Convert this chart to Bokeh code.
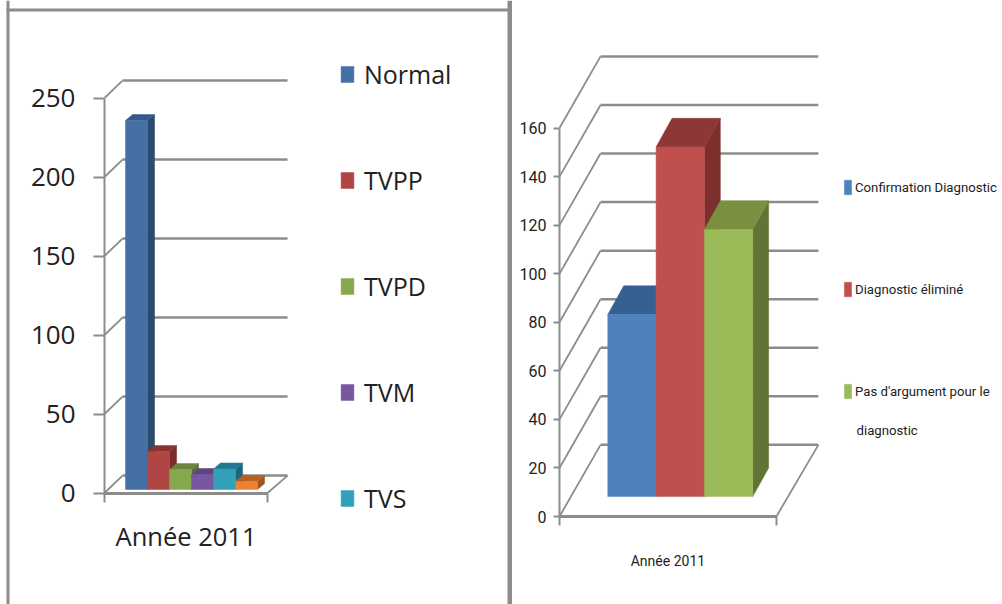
from bokeh.plotting import figure
from bokeh.layouts import row
from bokeh.models import (BoxAnnotation, FixedTicker, Label, Legend, LegendItem,
                          LinearAxis, Range1d)
from bokeh.embed import file_html
from bokeh.resources import INLINE

# ---- data -------------------------------------------------------------
left_series = ["Normal", "TVPP", "TVPD", "TVM", "TVS", "Autre"]
left_values = [233.5, 24, 12.6, 9.5, 13, 5]
left_legend = ["Normal", "TVPP", "TVPD", "TVM", "TVS"]
left_ticks = [0, 50, 100, 150, 200, 250]

right_series = ["Confirmation Diagnostic", "Diagnostic éliminé", "Pas d'argument pour le"]
right_values = [75, 144, 110]
right_ticks = [0, 20, 40, 60, 80, 100, 120, 140, 160]
category = "Année 2011"

left_front = ["#4470a4", "#b04545", "#86a94f", "#7857a0", "#31a0b8", "#ee8033"]
left_top = ["#335a8a", "#8c3330", "#6b8540", "#5f4580", "#25798e", "#b86020"]
left_side = ["#2b4a6e", "#7a2b2a", "#5c7338", "#4e3a6c", "#1f667a", "#a05418"]

right_front = ["#4f81bd", "#c0504d", "#9bbb59"]
right_top = ["#376092", "#8c3836", "#789040"]
right_side = ["#2f5380", "#7d2f2d", "#607535"]

AXIS = "#8c8c8c"
TEXT = "#222222"


def chart(width, height, x_range, y_range, ticks, values, front, top, side,
          floor_end, back_dx, back_dy, grid_end, bar_start, bar_dx, bar_dy, base,
          tick_font, tick_size, tick_out, tick_standoff, cat_size, cat_standoff, cat_out):
    p = figure(width=width, height=height, output_backend="svg", toolbar_location=None,
               x_range=Range1d(*x_range), y_range=Range1d(*y_range),
               x_axis_type=None, y_axis_type=None,
               min_border=0, outline_line_color=None)
    p.xgrid.visible = False
    p.ygrid.visible = False

    yaxis = LinearAxis(ticker=FixedTicker(ticks=ticks), bounds=(0, ticks[-1]), fixed_location=0)
    yaxis.axis_line_color = AXIS
    yaxis.axis_line_width = 2
    yaxis.major_tick_line_color = AXIS
    yaxis.major_tick_line_width = 2
    yaxis.major_tick_in = 0
    yaxis.major_tick_out = tick_out
    yaxis.minor_tick_line_color = None
    yaxis.major_label_text_font = tick_font
    yaxis.major_label_text_font_size = tick_size
    yaxis.major_label_text_color = TEXT
    yaxis.major_label_standoff = tick_standoff
    p.add_layout(yaxis, "left")

    centre = floor_end / 2
    xaxis = LinearAxis(ticker=FixedTicker(ticks=[centre], minor_ticks=[0, floor_end]),
                       bounds=(0, floor_end), fixed_location=0)
    xaxis.major_label_overrides = {centre: category}
    xaxis.axis_line_color = AXIS
    xaxis.axis_line_width = 3
    xaxis.major_tick_line_color = None
    xaxis.minor_tick_line_color = AXIS
    xaxis.minor_tick_line_width = 2
    xaxis.minor_tick_in = 0
    xaxis.minor_tick_out = cat_out
    xaxis.major_label_text_font = tick_font
    xaxis.major_label_text_font_size = cat_size
    xaxis.major_label_text_color = TEXT
    xaxis.major_label_standoff = cat_standoff
    p.add_layout(xaxis, "below")

    # back wall gridlines and their depth connectors
    p.multi_line([[back_dx, grid_end] for _ in ticks],
                 [[t + back_dy, t + back_dy] for t in ticks],
                 line_color=AXIS, line_width=2.5)
    p.multi_line([[0, back_dx] for _ in ticks], [[t, t + back_dy] for t in ticks],
                 line_color=AXIS, line_width=1.8)
    p.line([floor_end, grid_end], [0, back_dy], line_color=AXIS, line_width=1.8)

    fronts = []
    for i, v in enumerate(values):
        x0 = bar_start + i
        x1 = x0 + 1
        b = base
        t = base + v
        p.patch([x1, x1 + bar_dx, x1 + bar_dx, x1], [b, b + bar_dy, t + bar_dy, t],
                fill_color=side[i], line_color=side[i], line_width=0.5)
        p.patch([x0, x1, x1 + bar_dx, x0 + bar_dx], [t, t, t + bar_dy, t + bar_dy],
                fill_color=top[i], line_color=top[i], line_width=0.5)
        r = p.quad(left=x0, right=x1, bottom=b, top=t, fill_color=front[i], line_color=front[i],
                   line_width=0.5)
        fronts.append(r)
    return p, fronts


def borders(p, boxes):
    for l, r, t, b in boxes:
        p.add_layout(BoxAnnotation(left=l, right=r, top=t, bottom=b,
                                   left_units="canvas", right_units="canvas",
                                   top_units="canvas", bottom_units="canvas",
                                   fill_color=AXIS, fill_alpha=1, line_color=None, level="overlay"))


FONT_L = "Open Sans"
FONT_R = "Roboto"
W1, W2, H = 512, 490, 604

# left panel: 22 px per bar slot, 1.58 px per unit
SX1, SY1 = 22, 1.58
p1, f1 = chart(W1, H, (-104 / SX1, (W1 - 104) / SX1), (-(H - 492.5) / SY1, 492.5 / SY1),
               left_ticks, left_values, left_front, left_top, left_side,
               floor_end=7.41, back_dx=0.82, back_dy=11.0, grid_end=8.32,
               bar_start=0.955, bar_dx=0.32, bar_dy=3.8, base=2.2,
               tick_font=FONT_L, tick_size="26px", tick_out=11, tick_standoff=18,
               cat_size="25.5px", cat_standoff=17, cat_out=9)
leg1 = Legend(items=[LegendItem(label=n, renderers=[f1[i]]) for i, n in enumerate(left_legend)],
              location=(339, 89), orientation="vertical", padding=0, margin=0, spacing=72,
              glyph_width=16, glyph_height=20, label_standoff=9,
              label_text_font=FONT_L, label_text_font_size="25px", label_text_color=TEXT,
              background_fill_alpha=0, border_line_color=None)
p1.add_layout(leg1)
borders(p1, [(6, 9, 0, H), (6, 510, 8, 11), (507, 512, 0, H)])

# right panel: 48.3 px per bar slot, 2.428 px per unit
SX2, SY2 = 48.3, 2.428
p2, f2 = chart(W2, H, (-47 / SX2, (W2 - 47) / SX2), (-(H - 516) / SY2, 516 / SY2),
               right_ticks, right_values, right_front, right_top, right_side,
               floor_end=4.49, back_dx=0.85, back_dy=29.5, grid_end=5.36,
               bar_start=1.0, bar_dx=0.33, bar_dy=11.8, base=8.2,
               tick_font=FONT_R, tick_size="16px", tick_out=6, tick_standoff=7,
               cat_size="14px", cat_standoff=27, cat_out=9)
leg2 = Legend(items=[LegendItem(label=n, renderers=[f2[i]]) for i, n in enumerate(right_series)],
              location=(331, 204), orientation="vertical", padding=0, margin=0, spacing=84,
              glyph_width=9, glyph_height=18, label_standoff=3,
              label_text_font=FONT_R, label_text_font_size="13.2px", label_text_color=TEXT,
              background_fill_alpha=0, border_line_color=None)
p2.add_layout(leg2)
p2.add_layout(Label(x=344, y=174, x_units="screen", y_units="screen", text="diagnostic",
                    text_font=FONT_R, text_font_size="13.2px", text_color=TEXT,
                    text_baseline="middle"))

layout = row(p1, p2, spacing=0)
open("out.html", "w").write(file_html(layout, INLINE))
